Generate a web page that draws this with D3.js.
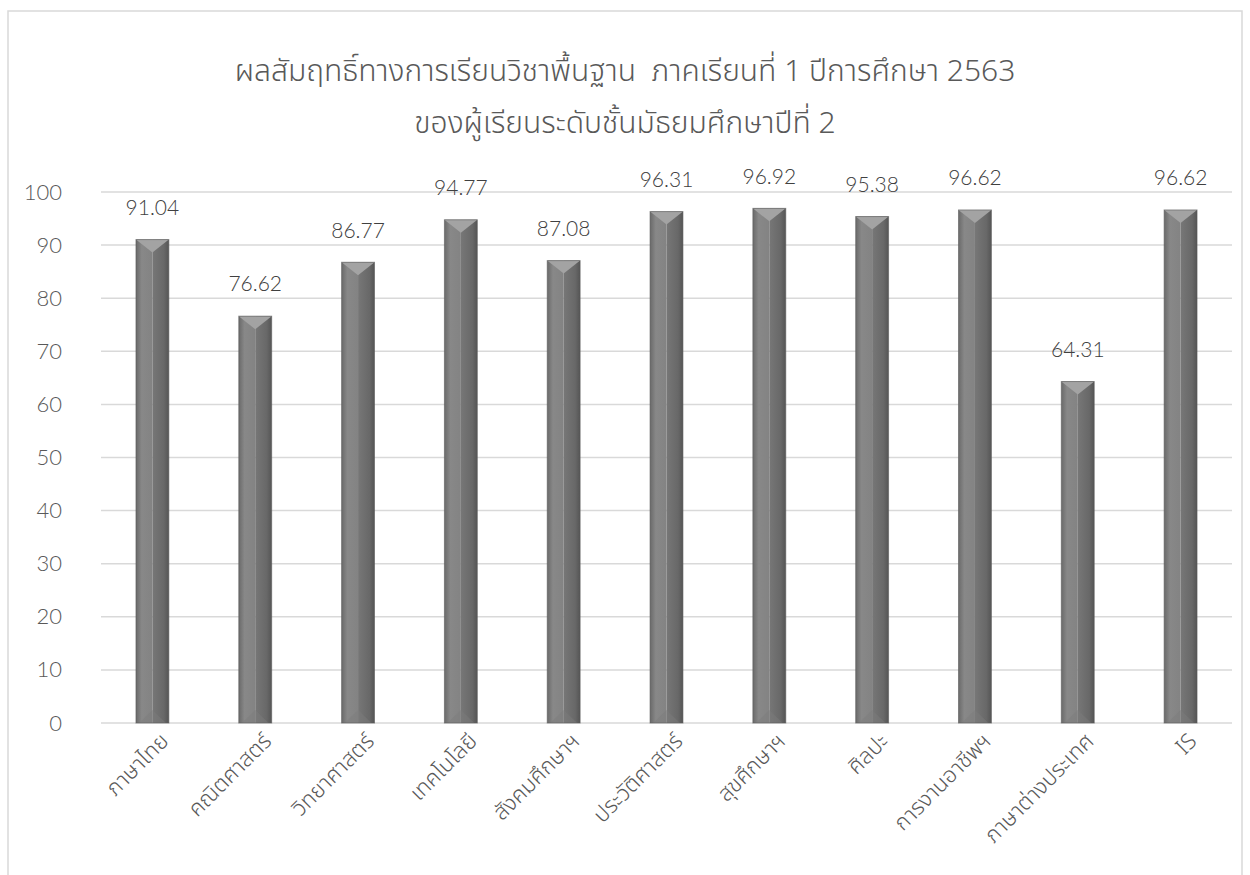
<!DOCTYPE html>
<html>
<head>
<meta charset="utf-8">
<script src="https://cdn.jsdelivr.net/npm/d3@7"></script>
<style>
  body { margin: 0; background: #fff; }
  svg { display: block; }
</style>
</head>
<body>
<script>
// subjects and scores (ม.2 ภาคเรียนที่ 1 ปีการศึกษา 2563)
const subjects = ["ภาษาไทย", "คณิตศาสตร์", "วิทยาศาสตร์", "เทคโนโลยี", "สังคมศึกษาฯ",
                  "ประวัติศาสตร์", "สุขศึกษาฯ", "ศิลปะ", "การงานอาชีพฯ", "ภาษาต่างประเทศ", "IS"];
const scores = [91.04, 76.62, 86.77, 94.77, 87.08, 96.31, 96.92, 95.38, 96.62, 64.31, 96.62];
const yTicks = [0, 10, 20, 30, 40, 50, 60, 70, 80, 90, 100];
const titleLines = ["ผลสัมฤทธิ์ทางการเรียนวิชาพื้นฐาน  ภาคเรียนที่ 1 ปีการศึกษา 2563",
                    "ของผู้เรียนระดับชั้นมัธยมศึกษาปีที่ 2"];

const width = 1250, height = 875;
const margin = {top: 192, right: 18, bottom: 152, left: 101};

let svg = d3.select("body").append("svg")
    .attr("width", width)
    .attr("height", height);

const thaiFont = "'Noto Sans Thai', 'Noto Sans Thai UI', 'Noto Sans', 'DejaVu Sans', sans-serif";
const numFont = "Lato, 'Open Sans', 'Noto Sans', sans-serif";

// chart frame (left + top edges visible)
svg.append("path")
    .attr("d", `M8,${height} L8,11 L1242,11 L1242,${height}`)
    .attr("fill", "none")
    .attr("stroke", "#d9d9d9")
    .attr("stroke-width", 1.5);

let xScale = d3.scaleBand()
    .domain(subjects)
    .range([margin.left, width - margin.right])
    .paddingInner(0.68)
    .paddingOuter(0.34);

let yScale = d3.scaleLinear()
    .domain([0, 100])
    .range([height - margin.bottom, margin.top]);

// gridlines
svg.append("g")
  .selectAll("line")
  .data(yTicks)
  .enter()
  .append("line")
    .attr("x1", margin.left)
    .attr("x2", width - margin.right)
    .attr("y1", d => yScale(d))
    .attr("y2", d => yScale(d))
    .attr("stroke", "#d9d9d9")
    .attr("stroke-width", 1.5);

// y axis labels only (no axis line)
let yAxis = svg.append("g")
    .attr("transform", `translate(${margin.left}, 0)`)
    .call(d3.axisLeft(yScale).tickValues(yTicks).tickSize(0).tickPadding(39));
yAxis.select(".domain").remove();
yAxis.selectAll("text")
    .attr("font-family", numFont)
    .attr("font-weight", 300)
    .attr("font-size", "22px")
    .attr("fill", "#595959");

// gradients for the bevelled bars
let defs = svg.append("defs");
let gl = defs.append("linearGradient").attr("id", "leftFace");
gl.append("stop").attr("offset", "0%").attr("stop-color", "#6a6a6a");
gl.append("stop").attr("offset", "35%").attr("stop-color", "#888888");
gl.append("stop").attr("offset", "100%").attr("stop-color", "#838383");
let gr = defs.append("linearGradient").attr("id", "rightFace");
gr.append("stop").attr("offset", "0%").attr("stop-color", "#777777");
gr.append("stop").attr("offset", "70%").attr("stop-color", "#686868");
gr.append("stop").attr("offset", "100%").attr("stop-color", "#555555");

let bars = svg.append("g")
  .selectAll("g")
  .data(subjects.map((s, i) => ({name: s, value: scores[i]})))
  .enter()
  .append("g");

const bw = xScale.bandwidth();
const bevel = 13;

// left half
bars.append("rect")
    .attr("x", d => xScale(d.name))
    .attr("y", d => yScale(d.value))
    .attr("width", bw / 2)
    .attr("height", d => yScale(0) - yScale(d.value))
    .attr("fill", "url(#leftFace)");
// right half
bars.append("rect")
    .attr("x", d => xScale(d.name) + bw / 2)
    .attr("y", d => yScale(d.value))
    .attr("width", bw / 2)
    .attr("height", d => yScale(0) - yScale(d.value))
    .attr("fill", "url(#rightFace)");
// top bevel triangle
bars.append("path")
    .attr("d", d => {
      let x0 = xScale(d.name), y0 = yScale(d.value);
      return `M${x0},${y0} L${x0 + bw},${y0} L${x0 + bw / 2},${y0 + bevel} Z`;
    })
    .attr("fill", "#a3a3a3");
// bottom bevel (subtle)
bars.append("path")
    .attr("d", d => {
      let x0 = xScale(d.name), y1 = yScale(0);
      return `M${x0 + 3},${y1} L${x0 + bw / 2},${y1 - bevel} L${x0 + bw - 3},${y1} Z`;
    })
    .attr("fill", "#7c7c7c")
    .attr("opacity", 0.45);
// outline
bars.append("rect")
    .attr("x", d => xScale(d.name))
    .attr("y", d => yScale(d.value))
    .attr("width", bw)
    .attr("height", d => yScale(0) - yScale(d.value))
    .attr("fill", "none")
    .attr("stroke", "#5a5a5a")
    .attr("stroke-width", 1)
    .attr("stroke-opacity", 0.6);

// value labels
bars.append("text")
    .attr("x", d => xScale(d.name) + bw / 2)
    .attr("y", d => yScale(d.value) - 32)
    .attr("dy", "0.35em")
    .attr("text-anchor", "middle")
    .attr("font-family", numFont)
    .attr("font-weight", 300)
    .attr("font-size", "21px")
    .attr("fill", "#404040")
    .text(d => d.value.toFixed(2));

// x category labels, rotated
svg.append("g")
  .selectAll("text")
  .data(subjects)
  .enter()
  .append("text")
    .attr("transform", d => `translate(${xScale(d) + bw / 2 + 12}, ${yScale(0) + 14}) rotate(-45)`)
    .attr("text-anchor", "end")
    .attr("dy", "0.35em")
    .attr("font-family", thaiFont)
    .attr("font-weight", 300)
    .attr("font-size", "22px")
    .attr("fill", "#595959")
    .text(d => d);

// title
svg.append("g")
  .selectAll("text")
  .data(titleLines)
  .enter()
  .append("text")
    .attr("x", 625)
    .attr("y", (d, i) => 70 + i * 52)
    .attr("dy", "0.35em")
    .attr("text-anchor", "middle")
    .attr("font-family", thaiFont)
    .attr("font-weight", 300)
    .attr("font-size", "30px")
    .attr("fill", "#595959")
    .style("white-space", "pre")
    .text(d => d);
</script>
</body>
</html>
